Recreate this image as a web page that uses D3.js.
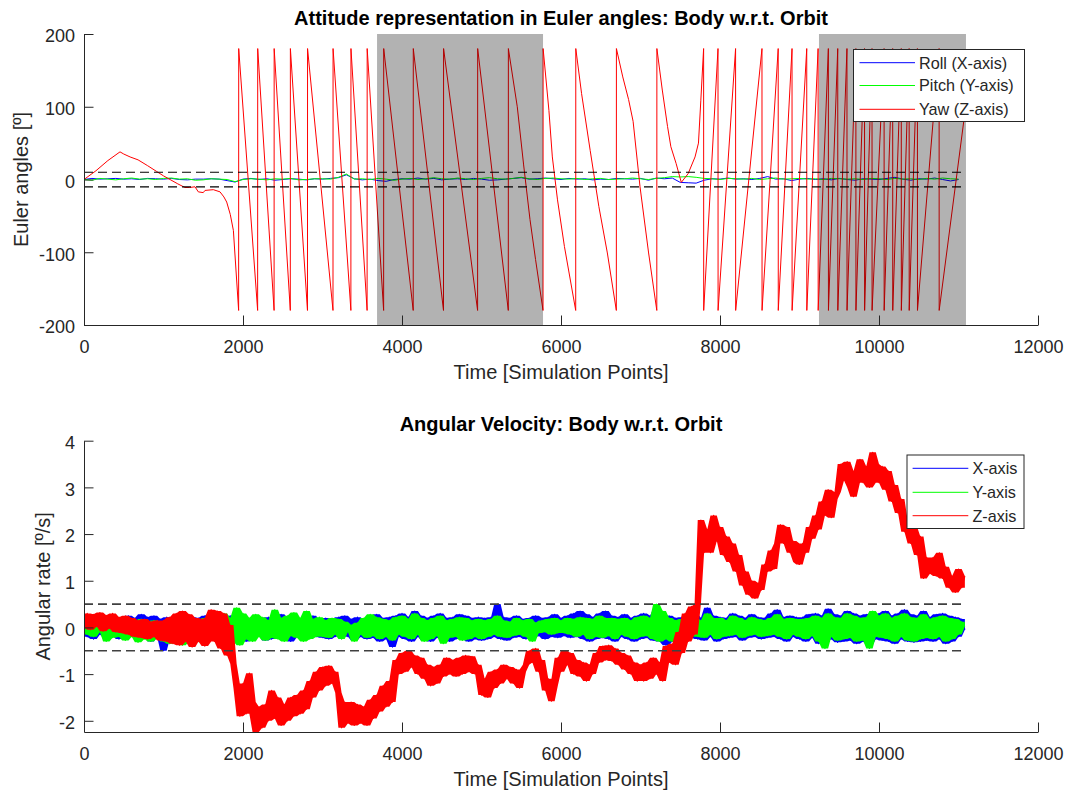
<!DOCTYPE html>
<html>
<head>
<meta charset="utf-8">
<script src="https://cdn.jsdelivr.net/npm/d3@7"></script>
<style>
  html, body { margin: 0; padding: 0; background: #ffffff; }
  svg text { font-family: "Liberation Sans", Arial, Helvetica, sans-serif; }
</style>
</head>
<body>
<svg id="fig" width="1069" height="792"></svg>
<script>
// ---------------- data ----------------
const timeTicks = [0, 2000, 4000, 6000, 8000, 10000, 12000];
const eulerTicks = [-200, -100, 0, 100, 200];
const rateTicks = [-2, -1, 0, 1, 2, 3, 4];

const eulerLegend = ["Roll (X-axis)", "Pitch (Y-axis)", "Yaw (Z-axis)"];
const rateLegend = ["X-axis", "Y-axis", "Z-axis"];

// eclipse / shaded intervals [start, end] in simulation points
const shadedSpans = [[3686, 5774], [9245, 11094]];
const eulerLimit = 10;      // deg
const rateLimit = 0.5;      // deg/s
const lastPoint = 11090;

// roll and pitch, one sample every 100 points (deg)
const eulerStep = 100;
const rollDeg = [
  0, 1.5, 0.5, 1, 1.5, 0.5, 1, 0, 1.5, 1,
  0.5, 1.5, 0, -0.5, 0.5, 0.5, 1, 0.5, -1.5, -3.5,
  0.5, 1.5, 0, 1, -1, 0, 1, 0.5, -0.5, 1,
  0.5, 1.5, 2.5, 6.5, 1, -0.5, 0.5, -1.5, -2.5, 0,
  1, 0.5, 2, 0.5, 1.5, -0.5, 0.5, 1, 0, 1.5,
  0.5, -1, -0.5, 0.5, 1.5, 2.5, 0.5, 1, 2, 1,
  0, 1.5, 0.5, 1, -0.5, 0.5, 0, 1.5, 1, 0.5,
  1.5, -1, 2, 1, 2, -4, -4.5, -5, -1, 1,
  0.5, 2, 0.5, 1, 0, 1.5, 4, 0.5, 1, -1.5,
  0.5, 1.5, 0, 1, -0.5, 1.5, 0, -1, 1, 0.5,
  0, 1.5, 3, 0.5, -1, 1, 0.5, 2, 0, -2,
  0
];
const pitchDeg = [
  0, -1, 1.5, 0.5, -0.5, 1, 2, 0.5, 1, 0,
  1.5, 2, 0.5, 1, -1, -0.5, 1, 0.5, 0, -3,
  0, 1, 0.5, -0.5, 1, 0.5, 1.5, -0.5, 0, 1,
  1, 0.5, 3, 7.5, 0.5, 1, 0, 1.5, 0.5, -1,
  0.5, 1.5, 0, 1, 2.5, 1, 0.5, 2, 1, 0,
  1.5, 2.5, 1, 0.5, 1.5, 3, 1, 0, 1.5, 2,
  1, 0.5, 1.5, 0, 1, 1.5, 0, 0.5, 1, 2,
  1, 0, 1.5, 2.5, 4, 3.5, 4, 3, 1.5, 1,
  0, 1.5, 1, 0.5, 1.5, 0, 1, 2, 0.5, 1,
  1.5, 0.5, 1, 0, 1.5, 1, 0.5, 1, 0, 1.5,
  1, 0, 1.5, 0.5, 1, 0, 1.5, 0.5, 2, 1,
  0.5
];

// yaw vertices [point, deg], wrapped to +-180
const yawPoints = [
  [0, 0], [150, 12], [300, 26], [453, 38], [500, 35], [580, 31], [680, 27], [800, 19],
  [914, 11], [1000, 5], [1082, 0], [1180, -6], [1270, -11], [1330, -11], [1396, -10],
  [1438, -17], [1500, -18], [1522, -15], [1627, -14], [1711, -17], [1760, -24],
  [1795, -31], [1840, -48], [1879, -70], [1945, -180],
  [1946, 180], [2184, -180], [2185, 180], [2391, -180], [2392, 180], [2595, -180],
  [2596, 180], [2811, -180], [2812, 180], [3132, -180], [3133, 180], [3357, -180],
  [3358, 180], [3561, -180], [3562, 180], [3769, -180], [3770, 180], [4141, -180],
  [4142, 180], [4522, -180], [4523, 180], [4951, -180], [4952, 180], [5337, -180],
  [5338, 180], [5450, 100], [5530, 20], [5610, -55], [5680, -110], [5774, -180],
  [5775, 180], [5848, 95], [5891, 31], [5956, -28], [6043, -92], [6185, -180],
  [6186, 180], [6259, 118], [6367, 40], [6476, -37], [6583, -101], [6696, -180],
  [6697, 180], [6777, 141], [6850, 110], [6907, 80], [6994, -10], [7102, -101], [7205, -180],
  [7206, 180], [7274, 123], [7340, 73], [7382, 45], [7448, 22], [7513, -4], [7599, 8],
  [7686, 31], [7729, 50], [7759, 109], [7794, 180],
  [7795, -180], [7975, 180], [7976, -180], [8196, 180], [8197, -180], [8528, 180],
  [8529, -180], [8732, 180], [8733, -180], [8906, 180], [8907, -180], [9091, 180],
  [9092, -180], [9234, 180], [9235, -180], [9363, 180], [9364, -180], [9481, 180],
  [9482, -180], [9597, 180], [9598, -180], [9709, 180], [9710, -180], [9818, 180],
  [9819, -180], [9912, 180], [9913, -180], [10064, 180], [10065, -180], [10172, 180],
  [10173, -180], [10280, 180], [10281, -180], [10379, 180], [10380, -180], [10483, 180],
  [10484, -180], [10756, 180], [10757, -180], [11090, 100]
];

// body rates, one sample every 40 points (deg/s)
const rateStep = 40;
const rateX = [
  0.1, -0.2, 0.15, -0.25, 0.2, -0.15, 0.18, -0.22, 0.12, -0.18, 0.2, -0.25, 0.22, -0.2, 0.25, -0.15, 0.2, -0.25, 0.28, -0.18, 0.22, -0.3, 0.25, -0.2, 0.18,
  -0.5, 0.22, -0.25, 0.2, -0.3, 0.25, -0.2, 0.28, -0.25, 0.22, -0.3, 0.2, -0.22, 0.25, -0.18, 0.3, -0.25, 0.2, -0.3, 0.22, -0.2, 0.25, -0.28, 0.2, -0.25,
  0.22, -0.3, 0.18, -0.22, 0.25, -0.18, 0.2, -0.28, 0.22, -0.25, 0.15, -0.2, 0.28, -0.22, 0.2, -0.3, 0.25, -0.2, 0.18, -0.25, 0.22, -0.18, 0.25, -0.2, 0.15,
  -0.22, 0.2, -0.25, 0.18, -0.2, 0.22, -0.15, 0.25, -0.2, 0.18, -0.28, 0.22, -0.2, 0.15, -0.25, 0.2, -0.22, 0.28, -0.3, 0.2, -0.25, 0.22, -0.42, 0.25, -0.2,
  0.3, -0.25, 0.22, -0.3, 0.35, -0.2, 0.25, -0.28, 0.2, -0.3, 0.25, -0.22, 0.3, -0.25, 0.2, -0.3, 0.22, -0.25, 0.28, -0.22, 0.25, -0.3, 0.2, -0.25, 0.22,
  -0.28, 0.2, -0.25, 0.22, -0.2, 0.5, -0.25, 0.22, -0.28, 0.2, -0.22, 0.25, -0.2, 0.18, -0.25, 0.2, -0.22, 0.25, -0.18, 0.2, -0.25, 0.22, -0.2, 0.28, -0.22,
  0.2, -0.18, 0.25, -0.22, 0.3, -0.2, 0.35, -0.25, 0.28, -0.3, 0.22, -0.25, 0.3, -0.22, 0.35, -0.25, 0.25, -0.3, 0.22, -0.2, 0.28, -0.25, 0.2, -0.3, 0.25,
  -0.25, 0.3, -0.22, 0.25, -0.28, 0.4, -0.3, 0.22, -0.38, 0.25, -0.3, 0.2, -0.25, 0.22, -0.2, 0.25, -0.22, 0.3, -0.25, 0.2, -0.28, 0.42, -0.2, 0.25, -0.3,
  0.22, -0.25, 0.2, -0.22, 0.3, -0.2, 0.25, -0.28, 0.2, -0.22, 0.28, -0.2, 0.22, -0.25, 0.2, -0.22, 0.3, -0.2, 0.38, -0.25, 0.22, -0.3, 0.25, -0.2, 0.22,
  -0.25, 0.22, -0.3, 0.28, -0.22, 0.3, -0.35, 0.25, -0.3, 0.4, -0.25, 0.28, -0.32, 0.25, -0.3, 0.35, -0.28, 0.3, -0.35, 0.25, -0.3, 0.28, -0.38, 0.3, -0.25,
  0.3, -0.28, 0.35, -0.3, 0.25, -0.35, 0.3, -0.25, 0.38, -0.3, 0.28, -0.32, 0.25, -0.3, 0.35, -0.28, 0.22, -0.3, 0.28, -0.25, 0.3, -0.35, 0.25, -0.3, 0.22,
  -0.2, 0.18, -0.05
];
const rateY = [
  0.05, -0.15, 0.1, -0.2, 0.12, -0.1, 0.15, -0.3, 0.1, -0.22, 0.15, -0.2, 0.12, -0.28, 0.15, -0.2, 0.1, -0.32, 0.18, -0.25, 0.12, -0.3, 0.15, -0.22, 0.1,
  -0.3, 0.1, -0.35, 0.12, -0.25, 0.05, -0.38, 0.1, -0.3, 0.15, -0.2, 0.1, -0.32, 0.2, -0.15, 0.25, -0.2, 0.22, -0.25, 0.3, -0.22, 0.2, -0.3, 0.42, -0.38,
  0.3, -0.25, 0.2, -0.3, 0.28, -0.2, 0.22, -0.28, 0.15, -0.22, 0.38, -0.25, 0.2, -0.3, 0.25, -0.18, 0.32, -0.22, 0.2, -0.3, 0.35, -0.25, 0.18, -0.2, 0.22,
  -0.2, 0.15, -0.22, 0.2, -0.15, 0.18, -0.25, 0.12, -0.1, 0.05, -0.3, 0.1, -0.15, 0.2, -0.22, 0.28, -0.18, 0.22, -0.25, 0.18, -0.2, 0.15, -0.28, 0.22, -0.15,
  0.25, -0.2, 0.18, -0.25, 0.3, -0.15, 0.2, -0.3, 0.15, -0.25, 0.2, -0.18, 0.25, -0.35, 0.15, -0.22, 0.18, -0.2, 0.22, -0.28, 0.2, -0.25, 0.15, -0.2, 0.18,
  -0.25, 0.15, -0.2, 0.18, -0.15, 0.25, -0.2, 0.15, -0.22, 0.12, -0.18, 0.2, -0.15, 0.15, -0.2, 0.18, -0.3, 0.1, -0.12, 0.15, -0.1, 0.18, -0.15, 0.2, -0.12,
  0.15, -0.12, 0.2, -0.15, 0.18, -0.2, 0.22, -0.15, 0.2, -0.25, 0.18, -0.2, 0.25, -0.22, 0.2, -0.18, 0.2, -0.25, 0.18, -0.15, 0.2, -0.2, 0.15, -0.25, 0.22,
  -0.2, 0.25, -0.18, 0.2, -0.25, 0.5, -0.3, 0.35, -0.25, 0.2, -0.3, 0.15, -0.2, 0.18, -0.15, 0.2, -0.18, 0.2, -0.2, 0.15, -0.22, 0.3, -0.15, 0.2, -0.25,
  0.2, -0.2, 0.15, -0.18, 0.25, -0.15, 0.2, -0.22, 0.15, -0.18, 0.22, -0.15, 0.18, -0.2, 0.15, -0.18, 0.2, -0.15, 0.28, -0.2, 0.18, -0.25, 0.2, -0.15, 0.18,
  -0.2, 0.18, -0.25, 0.2, -0.18, 0.25, -0.3, 0.2, -0.45, 0.3, -0.2, 0.22, -0.28, 0.2, -0.25, 0.3, -0.22, 0.25, -0.3, 0.2, -0.28, 0.22, -0.45, 0.35, -0.2,
  0.25, -0.22, 0.3, -0.25, 0.2, -0.3, 0.25, -0.2, 0.3, -0.28, 0.22, -0.3, 0.2, -0.25, 0.28, -0.22, 0.18, -0.25, 0.22, -0.2, 0.25, -0.3, 0.2, -0.25, 0.18,
  -0.15, 0.12, 0.02
];
const rateZ = [
  0.0, 0.3, -0.05, 0.28, 0.02, 0.32, -0.08, 0.26, -0.02, 0.3, -0.1, 0.22, -0.12, 0.25, -0.15, 0.2, -0.2, 0.15, -0.22, 0.18, -0.25, 0.12, -0.2, 0.15, -0.28,
  0.15, -0.3, 0.22, -0.35, 0.3, -0.38, 0.35, -0.3, 0.28, -0.42, 0.2, -0.3, 0.18, -0.4, 0.2, 0.38, -0.3, 0.35, -0.45, 0.3, -0.6, 0.05, -0.78, -1.3, -1.9,
  -1.2, -1.85, -0.98, -1.6, -2.24, -1.7, -2.15, -1.65, -2.0, -1.35, -1.95, -1.5, -2.1, -1.65, -2.0, -1.5, -1.9, -1.45, -1.85, -1.35, -1.75, -1.15, -1.5, -0.95, -1.35,
  -0.85, -1.25, -0.82, -1.2, -0.95, -1.4, -2.15, -1.6, -2.05, -1.6, -2.1, -1.65, -2.05, -1.7, -2.1, -1.55, -1.95, -1.45, -1.8, -1.25, -1.7, -1.15, -1.6, -0.7, -1.0,
  -0.55, -0.95, -0.5, -0.85, -0.6, -1.0, -0.65, -1.1, -0.8, -1.25, -0.85, -1.2, -0.8, -1.05, -0.65, -1.0, -0.7, -1.05, -0.65, -1.0, -0.6, -0.95, -0.62, -1.0, -0.8,
  -1.45, -1.1, -1.5, -0.95, -1.3, -0.9, -1.2, -0.8, -1.1, -0.85, -1.2, -0.9, -1.3, -0.95, -0.8, -0.5, -0.75, -0.45, -0.95, -0.7, -1.35, -1.1, -1.58, -1.25, -0.65,
  -0.95, -0.5, -0.8, -0.55, -1.0, -0.7, -1.05, -0.75, -1.15, -0.8, -1.0, -0.55, -0.75, -0.4, -0.7, -0.38, -0.72, -0.45, -0.8, -0.55, -0.9, -0.6, -1.0, -0.75, -1.15,
  -0.8, -1.15, -0.75, -1.1, -0.65, -1.0, -0.75, -1.15, -0.4, -0.75, -0.35, -0.8, -0.1, -0.55, 0.3, -0.3, 0.45, -0.15, 0.5, 2.3, 1.6, 2.1, 1.6, 2.4, 1.85,
  2.15, 1.55, 1.95, 1.4, 1.8, 1.2, 1.55, 0.9, 1.2, 0.7, 1.0, 0.62, 0.95, 0.8, 1.35, 1.2, 1.65, 1.25, 1.8, 2.2, 1.8, 2.15, 1.6, 1.85, 1.4,
  1.35, 1.8, 1.6, 2.15, 1.9, 2.4, 2.1, 2.7, 2.4, 2.95, 2.35, 2.75, 2.9, 3.5, 3.15, 3.55, 3.0, 2.8, 3.35, 3.6, 3.1, 3.45, 3.0, 3.75, 3.5,
  3.1, 3.45, 2.95, 3.35, 2.7, 3.05, 2.45, 2.75, 2.05, 2.3, 1.8, 2.15, 1.55, 1.95, 1.05, 1.5, 1.15, 1.5, 1.1, 1.6, 1.05, 1.3, 0.85, 1.1, 0.75,
  1.25, 0.85, 1.1
];

// ---------------- drawing ----------------
const INK = "#262626";
const COLORS = ["#0000ff", "#00ff00", "#ff0000"];
const svg = d3.select("#fig");
svg.append("rect").attr("width", 1069).attr("height", 792).attr("fill", "#ffffff");

const plotLeft = 84, plotRight = 1038;

const xTop = d3.scaleLinear().domain([0, 12000]).range([plotLeft, plotRight]);
const yTop = d3.scaleLinear().domain([-200, 200]).range([325, 34]);
const xBot = d3.scaleLinear().domain([0, 12000]).range([plotLeft, plotRight]);
const yBot = d3.scaleLinear().domain([-2.24, 4]).range([732, 440.7]);

function drawAxes(x, y, yTicks) {
  const [yb] = y.range();
  const gx = svg.append("g").attr("transform", `translate(0,${yb})`)
    .call(d3.axisBottom(x).tickValues(timeTicks).tickSizeInner(-9.5).tickSizeOuter(0)
      .tickFormat(d => String(d)));
  const gy = svg.append("g").attr("transform", `translate(${plotLeft},0)`)
    .call(d3.axisLeft(y).tickValues(yTicks).tickSizeInner(-9.5).tickSizeOuter(0)
      .tickFormat(d => String(d)));
  [gx, gy].forEach(g => {
    g.select(".domain").attr("stroke", INK).attr("stroke-width", 1);
    g.selectAll(".tick line").attr("stroke", INK).attr("stroke-width", 1);
    g.selectAll(".tick text").attr("fill", INK).attr("font-size", 18)
      .attr("font-family", '"Liberation Sans", Arial, sans-serif');
  });
  gx.selectAll(".tick text").attr("y", 28).attr("dy", null);
  gy.selectAll(".tick text").attr("x", -9).attr("y", 1.5).attr("dy", "0.35em");
}

function addText(txt, x, y, opts = {}) {
  const t = svg.append("text").attr("x", x).attr("y", y).text(txt)
    .attr("font-size", opts.size || 20)
    .attr("fill", opts.fill || INK)
    .attr("text-anchor", opts.anchor || "middle");
  if (opts.bold) t.attr("font-weight", "bold");
  if (opts.rotate) t.attr("transform", `rotate(-90,${x},${y})`);
  return t;
}

function clip(id, x, y) {
  const [y0, y1] = y.range();
  svg.append("clipPath").attr("id", id).append("rect")
    .attr("x", x.range()[0]).attr("y", y1).attr("width", x.range()[1] - x.range()[0]).attr("height", y0 - y1);
  return `url(#${id})`;
}

function drawLegend(box, lineX, labels, rows, textX) {
  const g = svg.append("g");
  g.append("rect").attr("x", box[0]).attr("y", box[1]).attr("width", box[2]).attr("height", box[3])
    .attr("fill", "#ffffff").attr("stroke", INK).attr("stroke-width", 1);
  labels.forEach((lab, i) => {
    g.append("line").attr("x1", lineX[0]).attr("x2", lineX[1]).attr("y1", rows[i]).attr("y2", rows[i])
      .attr("stroke", COLORS[i]).attr("stroke-width", 1);
    g.append("text").attr("x", textX).attr("y", rows[i]).attr("dy", "0.36em")
      .attr("font-size", 16.2).attr("fill", INK).text(lab);
  });
}

// ===== top panel: Euler angles =====
const clipTop = clip("clipTop", xTop, yTop);
const eulerLine = d3.line().x(d => xTop(d[0])).y(d => yTop(d[1]));
const gTop = svg.append("g").attr("clip-path", clipTop);

const rollSeries = rollDeg.map((v, i) => [Math.min(i * eulerStep, lastPoint), v]);
const pitchSeries = pitchDeg.map((v, i) => [Math.min(i * eulerStep, lastPoint), v]);

gTop.append("path").datum(rollSeries).attr("d", eulerLine)
  .attr("fill", "none").attr("stroke", COLORS[0]).attr("stroke-width", 1);
gTop.append("path").datum(pitchSeries).attr("d", eulerLine)
  .attr("fill", "none").attr("stroke", COLORS[1]).attr("stroke-width", 1);
gTop.append("path").datum(yawPoints).attr("d", eulerLine)
  .attr("fill", "none").attr("stroke", COLORS[2]).attr("stroke-width", 1);

[eulerLimit, -eulerLimit].forEach(v => {
  gTop.append("line").attr("x1", xTop(0)).attr("x2", xTop(lastPoint))
    .attr("y1", yTop(v)).attr("y2", yTop(v))
    .attr("stroke", "#000000").attr("stroke-width", 1.2).attr("stroke-dasharray", "9,5");
});

// shaded intervals sit over the curves, darkening them
gTop.selectAll("rect.shade").data(shadedSpans).enter().append("rect")
  .attr("class", "shade")
  .attr("x", d => xTop(d[0])).attr("width", d => xTop(d[1]) - xTop(d[0]))
  .attr("y", yTop(200)).attr("height", yTop(-200) - yTop(200))
  .attr("fill", "#000000").attr("fill-opacity", 0.3);

drawAxes(xTop, yTop, eulerTicks);
addText("Attitude representation in Euler angles: Body w.r.t. Orbit", (plotLeft + plotRight) / 2, 25,
  { bold: true, fill: "#000000" });
addText("Time [Simulation Points]", (plotLeft + plotRight) / 2, 379);
addText("Euler angles [º]", 28, (34 + 325) / 2, { rotate: true });
drawLegend([853.5, 49.5, 171, 72], [859.5, 915], eulerLegend, [62.7, 85.5, 109.3], 919);

// ===== bottom panel: angular rates =====
const clipBot = clip("clipBot", xBot, yBot);
const rateLine = d3.line().x(d => xBot(d[0])).y(d => yBot(d[1]));
const rateBand = d3.area().x(d => xBot(d[0])).y0(d => yBot(d[1])).y1(d => yBot(d[2]));
const gBot = svg.append("g").attr("clip-path", clipBot);
const rateTime = d3.range(rateX.length).map(i => Math.min(i * rateStep, lastPoint));

// dense signals: local min/max of neighbouring samples filled as a band,
// with the sampled trace drawn over it
function minMaxBand(series) {
  return series.map((v, i) => {
    const win = series.slice(Math.max(0, i - 1), i + 2);
    return [rateTime[i], d3.min(win), d3.max(win)];
  });
}

[rateX, rateY, rateZ].forEach((series, k) => {
  gBot.append("path").datum(minMaxBand(series)).attr("d", rateBand)
    .attr("fill", COLORS[k]).attr("stroke", "none");
  gBot.append("path").datum(series.map((v, i) => [rateTime[i], v])).attr("d", rateLine)
    .attr("fill", "none").attr("stroke", COLORS[k]).attr("stroke-width", 1.2)
    .attr("stroke-linejoin", "round");
});

[rateLimit, -rateLimit].forEach(v => {
  gBot.append("line").attr("x1", xBot(0)).attr("x2", xBot(lastPoint))
    .attr("y1", yBot(v)).attr("y2", yBot(v))
    .attr("stroke", "#404040").attr("stroke-width", 1.6).attr("stroke-dasharray", "9,5");
});

drawAxes(xBot, yBot, rateTicks);
addText("Angular Velocity: Body w.r.t. Orbit", (plotLeft + plotRight) / 2, 431,
  { bold: true, fill: "#000000" });
addText("Time [Simulation Points]", (plotLeft + plotRight) / 2, 786);
addText("Angular rate [º/s]", 50, (440.7 + 732) / 2, { rotate: true });
drawLegend([907, 455, 117, 73.5], [912.6, 968.3], rateLegend, [468.3, 492.3, 515.7], 972.4);
</script>
</body>
</html>
